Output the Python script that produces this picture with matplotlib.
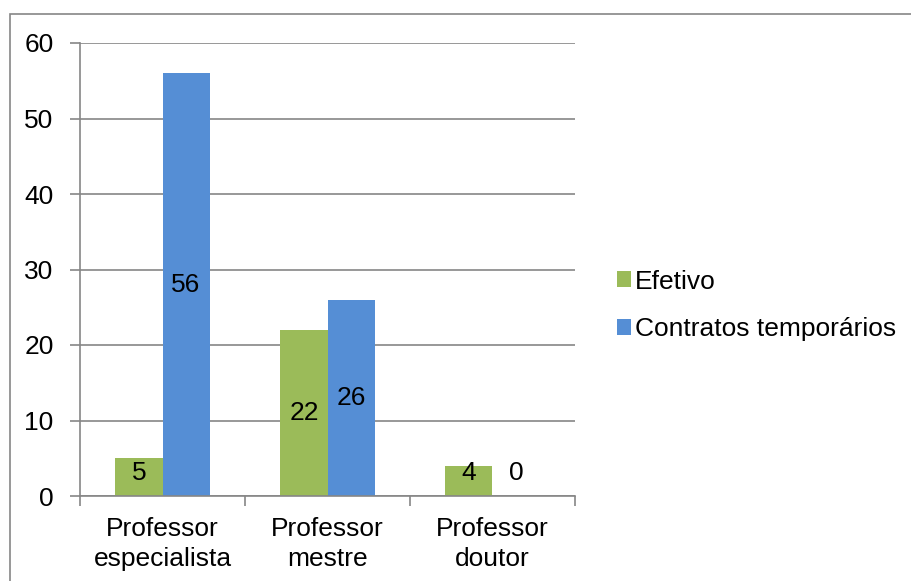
import numpy as np
import matplotlib
matplotlib.use('Agg')
import matplotlib.pyplot as plt
from matplotlib.patches import Rectangle

plt.rcParams['font.family'] = ['Liberation Sans', 'DejaVu Sans']

## data
categories = ['Professor\nespecialista', 'Professor\nmestre', 'Professor\ndoutor']
series_names = ['Efetivo', 'Contratos temporários']
efetivo = [5, 22, 4]
temporarios = [56, 26, 0]
colors = ['#9BBB59', '#558ED5']

fs = 19
fig = plt.figure(figsize=(9.11, 5.81), dpi=100)
ax = fig.add_axes([80/911, 1-496/581, 495/911, 453/581])

# outer chart border
fig.patches.append(Rectangle((10/911, -0.01), 1.0, 1-14/581+0.01, transform=fig.transFigure,
                             fill=False, edgecolor='#868686', linewidth=1.2, zorder=0))

x = np.arange(len(categories))
w = 0.285
vals = [efetivo, temporarios]
for i, (name, v) in enumerate(zip(series_names, vals)):
    off = (i - 0.5) * w
    ax.bar(x + off, v, width=w, color=colors[i], label=name, zorder=2)
    for xi, vi in zip(x, v):
        ax.text(xi + off, max(vi / 2, 3.1), str(vi), ha='center', va='center',
                fontsize=fs, color='black', zorder=3)

ax.set_xlim(-0.5, len(categories) - 0.5)
ax.set_ylim(0, 60)
ax.set_yticks(np.arange(0, 61, 10))
ax.yaxis.grid(True, color='#868686', linewidth=1.2, zorder=0)
ax.set_axisbelow(True)

ax.set_xticks(x)
ax.set_xticklabels(categories, fontsize=fs, linespacing=1.3)
ax.set_xticks(np.arange(-0.5, len(categories)), minor=True)
ax.tick_params(axis='x', which='major', length=0, pad=15)
ax.tick_params(axis='x', which='minor', length=7, width=1.2, color='#868686')
ax.tick_params(axis='y', length=7, width=1.2, color='#868686', labelsize=fs, pad=12)

for s in ['top', 'right']:
    ax.spines[s].set_visible(False)
for s in ['left', 'bottom']:
    ax.spines[s].set_color('#868686')
    ax.spines[s].set_linewidth(1.2)

fig.legend(loc='upper left', bbox_to_anchor=(606/911, 1-259/581), frameon=False,
           fontsize=fs, handlelength=0.55, handleheight=0.55, handletextpad=0.15,
           labelspacing=0.9, borderaxespad=0)

fig.savefig('out.png', dpi=100)
